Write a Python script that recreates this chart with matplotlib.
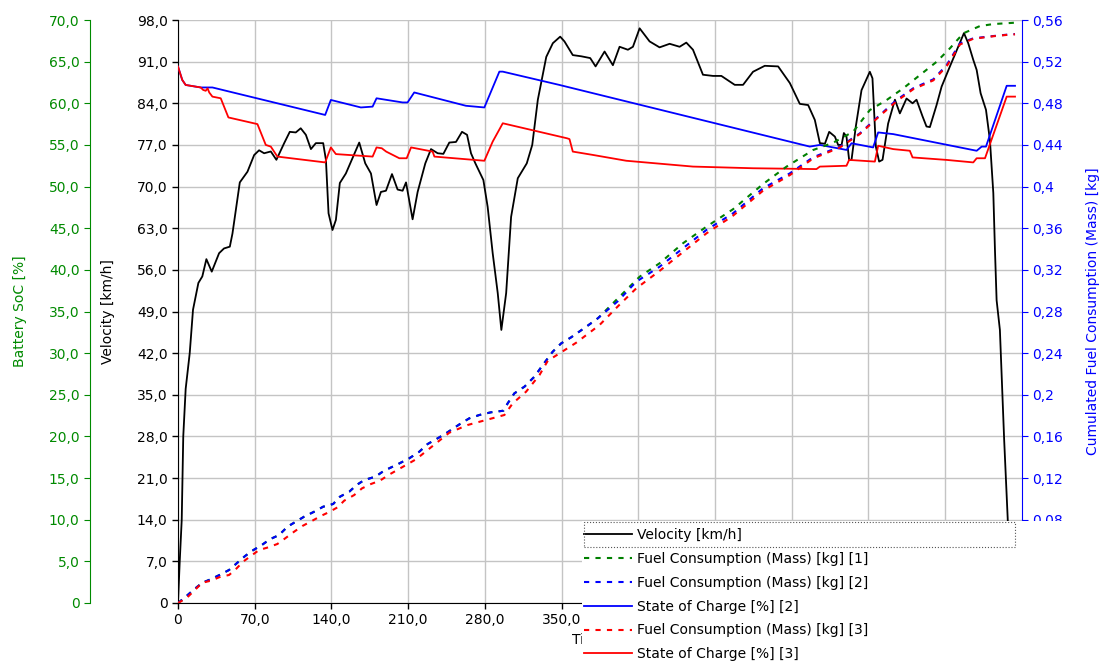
import numpy as np
import matplotlib
matplotlib.use("Agg")
import matplotlib.pyplot as plt
from matplotlib.lines import Line2D
from matplotlib.patches import Rectangle
from matplotlib.ticker import FuncFormatter

plt.rcParams['font.family'] = ['DejaVu Sans']
plt.rcParams['font.size'] = 10

# --- data (time [s], value) ---
velocity_pts = [
    (0, 0), (1.5, 6.7), (3.4, 14), (4.8, 28), (7, 36), (10.7, 42), (13.7, 49.3),
    (18.6, 53.8), (22.2, 54.9), (25.9, 57.8), (30.8, 55.7), (37.5, 58.8), (42, 59.6),
    (47.3, 59.9), (49.7, 62.1), (56.4, 70.7), (63.4, 72.5), (69.5, 75.3), (74, 76.1),
    (78.6, 75.6), (84.7, 75.9), (89.8, 74.5), (96.9, 77.3), (102, 79.2), (107.5, 79.1),
    (112, 79.8), (116.7, 78.7), (121.3, 76.3), (125.8, 77.3), (132.5, 77.3), (135, 74.5),
    (137.4, 65.5), (141, 62.7), (144.1, 64.4), (147.7, 70.6), (153.2, 72.2), (158.6, 74.5),
    (165.4, 77.4), (170.9, 73.9), (176.1, 72.2), (181.2, 66.9), (185.2, 69.1), (189.8, 69.3),
    (195.3, 72.1), (200.4, 69.5), (205, 69.3), (208.1, 70.7), (214.1, 64.5), (218.7, 69.1),
    (225.7, 73.9), (230.9, 76.3), (237, 75.6), (242.2, 75.5), (247.6, 77.4), (253.7, 77.5),
    (259.2, 79.2), (263.8, 78.7), (267.4, 75.6), (271.4, 73.9), (278.7, 71.1), (282.6, 66.6),
    (287.2, 58.8), (291.8, 52.1), (295.1, 45.9), (299.5, 52.1), (304, 64.9), (310.1, 71.4),
    (318.3, 73.9), (323.3, 77), (328.4, 84.6), (336.1, 91.8), (342.1, 94.1), (348.8, 95.2),
    (352.7, 94.4), (360.3, 92.1), (368, 91.9), (376.2, 91.6), (381.1, 90.2), (389.3, 92.7),
    (396.9, 90.4), (403, 93.5), (410.6, 93), (415.2, 93.5), (421.3, 96.6), (430.4, 94.4),
    (439.5, 93.4), (448.7, 94), (457.8, 93.5), (463.9, 94.2), (470, 93), (479.1, 88.8),
    (488.3, 88.6), (495.9, 88.6), (508.1, 87.1), (515.7, 87.1), (524.8, 89.3), (535.5, 90.3),
    (547.7, 90.2), (558.4, 87.4), (567.5, 83.9), (575.1, 83.7), (581.2, 81.2), (585.8, 77.3),
    (590.4, 77.2), (594.3, 79.2), (599.5, 78.4), (602.5, 77), (605.6, 77), (607.7, 79),
    (610.1, 78.4), (612.5, 74.5), (614.7, 74.5), (618.6, 80.1), (623.8, 86.2), (631.4, 89.3),
    (633.8, 88.2), (636.9, 76.7), (639.9, 74.2), (643, 74.5), (648.1, 80.6), (654.3, 84.6),
    (658.8, 82.3), (664.9, 84.8), (670.4, 84), (674, 84.6), (679.5, 81.8), (683.1, 80.1),
    (686.2, 80), (692.3, 83.7), (696.9, 86.8), (704.5, 90.2), (712.1, 93.5), (717.3, 95.8),
    (721.2, 94.1), (725.8, 91.3), (728.9, 89.6), (732.5, 85.7), (737.4, 82.9), (741, 77.8),
    (744.1, 68.9), (745.6, 59.3), (747.1, 50.9), (750.1, 45.9), (754, 27.4), (757.2, 14.3),
    (760, 0),
]

fuel1_pts = [
    (0, 0), (7, 0.006), (14.6, 0.013), (22.2, 0.0195), (29.9, 0.0228), (39, 0.0275),
    (46.6, 0.0317), (54.2, 0.0387), (61.2, 0.0451), (67.9, 0.0503), (76.5, 0.0557),
    (83.8, 0.0612), (92.3, 0.0653), (99.9, 0.0733), (107.5, 0.0781), (115.1, 0.0829),
    (124.3, 0.0877), (132.5, 0.0925), (141.6, 0.0951), (147.8, 0.1021), (156.3, 0.1069),
    (162.9, 0.1133), (170, 0.1181), (180, 0.1213), (188.2, 0.1271), (200, 0.133),
    (211.1, 0.139), (220.2, 0.1453), (227.8, 0.1527), (237, 0.1582), (244.6, 0.163),
    (258.3, 0.1726), (265.9, 0.1774), (275.1, 0.1806), (285.7, 0.1832), (297, 0.1847),
    (300.9, 0.1918), (307, 0.2014), (316.2, 0.2078), (325.3, 0.2174), (332.9, 0.2286),
    (342, 0.2414), (349.7, 0.2494), (358.8, 0.2552), (372.6, 0.2654), (383.2, 0.2735),
    (401.5, 0.2927), (421.3, 0.3134), (439.5, 0.3263), (460.8, 0.3455), (482.2, 0.3614),
    (506.5, 0.3782), (533.9, 0.4024), (555.3, 0.4191), (579.6, 0.4351), (597.9, 0.4421),
    (616.2, 0.4527), (631.4, 0.4735), (646.7, 0.4831), (661.9, 0.4944), (677.1, 0.5071),
    (692.4, 0.5199), (704.5, 0.5328), (716.7, 0.5472), (731.9, 0.5542), (744.1, 0.5561),
    (763.9, 0.5574),
]

fuel2_pts = [
    (0, 0), (7, 0.006), (14.6, 0.013), (22.2, 0.0195), (29.9, 0.0228), (39, 0.0275),
    (46.6, 0.0317), (54.2, 0.0387), (61.2, 0.0451), (67.9, 0.0503), (76.5, 0.0557),
    (83.8, 0.0612), (92.3, 0.0653), (99.9, 0.0733), (107.5, 0.0781), (115.1, 0.0829),
    (124.3, 0.0877), (132.5, 0.0925), (141.6, 0.0951), (147.8, 0.1021), (156.3, 0.1069),
    (162.9, 0.1133), (170, 0.1181), (180, 0.1213), (188.2, 0.1271), (200, 0.133),
    (211.1, 0.139), (220.2, 0.1453), (227.8, 0.1527), (237, 0.1582), (244.6, 0.163),
    (258.3, 0.1726), (265.9, 0.1774), (275.1, 0.1806), (285.7, 0.1832), (297, 0.1847),
    (300.9, 0.1918), (307, 0.2014), (316.2, 0.2078), (325.3, 0.2174), (332.9, 0.2286),
    (342, 0.2414), (349.7, 0.2494), (358.8, 0.2552), (372.6, 0.2654), (383.2, 0.2735),
    (401.5, 0.29), (418.2, 0.3086), (439.5, 0.323), (460.8, 0.3407), (482.2, 0.3583),
    (506.5, 0.3743), (533.9, 0.3983), (558.4, 0.4127), (579.6, 0.4281), (604, 0.4383),
    (622.3, 0.4511), (640.6, 0.4687), (655.8, 0.4831), (671, 0.4944), (689.3, 0.503),
    (701.5, 0.5167), (713.7, 0.5376), (725.8, 0.5424), (744.1, 0.5446), (759.4, 0.5462),
    (763.9, 0.5465),
]

fuel3_pts = [
    (0, 0), (7.6, 0.0045), (22.2, 0.0195), (29.9, 0.0214), (39, 0.0253), (46.6, 0.0269),
    (52.7, 0.0324), (59.4, 0.0397), (66.4, 0.0451), (74, 0.0509), (82.5, 0.0535),
    (90.7, 0.0567), (97.8, 0.0621), (106, 0.0685), (113.6, 0.074), (122.7, 0.0791),
    (130.4, 0.0836), (138, 0.0874), (145.6, 0.0919), (151.7, 0.0983), (160.8, 0.1037),
    (167.9, 0.1101), (176.1, 0.1143), (184.3, 0.1175), (192.2, 0.123), (217.2, 0.138),
    (232.4, 0.1508), (247.6, 0.1636), (264.4, 0.171), (281.2, 0.1758), (297.9, 0.1806),
    (305.5, 0.1918), (317.7, 0.203), (329.9, 0.219), (337.5, 0.2327), (348.2, 0.2398),
    (363.4, 0.25), (384.7, 0.267), (401.5, 0.285), (418.2, 0.3022), (439.5, 0.319),
    (460.8, 0.337), (482.2, 0.355), (506.5, 0.372), (533.9, 0.396), (558.4, 0.411),
    (579.6, 0.427), (604, 0.4375), (622.3, 0.4505), (640.6, 0.468), (655.8, 0.482),
    (671, 0.4935), (689.3, 0.502), (701.5, 0.5155), (713.7, 0.5365), (725.8, 0.542),
    (744.1, 0.5444), (759.4, 0.546), (763.9, 0.5462),
]

soc2_pts = [
    (0, 64.4), (3.9, 62.8), (7, 62.2), (20.7, 61.9), (31.4, 61.9), (134.3, 58.6),
    (139.5, 60.4), (166.9, 59.5), (177.6, 59.6), (181.2, 60.6), (205, 60.1), (209.5, 60.1),
    (215.6, 61.3), (262.8, 59.7), (279.6, 59.5), (293.3, 63.8), (296.4, 63.8), (348.2, 62.2),
    (576.6, 54.8), (585.8, 55.0), (610.1, 54.4), (614.7, 55.2), (634.4, 54.7), (639, 56.5),
    (652.7, 56.3), (728.9, 54.3), (733.5, 54.8), (737.4, 54.8), (756.3, 62.1), (763.9, 62.1),
]

soc3_pts = [
    (0, 64.4), (3.9, 62.8), (7, 62.2), (20.7, 61.9), (23, 61.6), (25.3, 61.5), (27, 61.8),
    (28.5, 61.3), (31.4, 60.8), (39, 60.6), (46, 58.3), (72.5, 57.5), (80.1, 55.0),
    (84.7, 54.8), (90.7, 53.6), (134.3, 52.9), (139.5, 54.7), (144.1, 53.9), (177.6, 53.6),
    (181.2, 54.7), (186, 54.6), (190, 54.2), (202, 53.4), (208.7, 53.4), (212.7, 54.7),
    (232.4, 54.2), (234, 53.6), (279.6, 53.1), (287.2, 55.4), (296.4, 57.6), (355, 55.8),
    (357.3, 55.7), (360.3, 54.2), (378.6, 53.8), (409.1, 53.1), (470, 52.4), (524.8, 52.2),
    (582.7, 52.1), (585.8, 52.4), (610.1, 52.5), (612.5, 53.2), (636, 53.0), (639, 54.9),
    (652.7, 54.5), (667.9, 54.3), (670.4, 53.5), (701.5, 53.2), (725.8, 52.9), (728.9, 53.4),
    (736.5, 53.4), (756.3, 60.8), (763.9, 60.8),
]

legend_labels = ["Velocity [km/h]", "Fuel Consumption (Mass) [kg] [1]",
                 "Fuel Consumption (Mass) [kg] [2]", "State of Charge [%] [2]",
                 "Fuel Consumption (Mass) [kg] [3]", "State of Charge [%] [3]"]

GREEN = '#008a00'
BLUE = '#0000ff'
RED = '#ff0000'
DOTS = (0, (2.5, 3))


def comma1(v, pos):
    if abs(v) < 1e-9:
        return '0'
    return f'{v:.1f}'.replace('.', ',')


def time_fmt(v, pos):
    # labels past 350 sit under the legend in the original
    if v > 351:
        return ''
    return comma1(v, pos)


def comma2(v, pos):
    # 0 and 0,04 sit under the legend in the original
    if v < 0.07:
        return ''
    return f'{v:.2f}'.rstrip('0').replace('.', ',')


W, H = 1101, 667
fig = plt.figure(figsize=(W / 100, H / 100), dpi=100)
left, right, top, bottom = 178, 1021.7, 20, 603
ax = fig.add_axes([left / W, 1 - bottom / H, (right - left) / W, (bottom - top) / H])

# velocity axis (main)
ax.set_xlim(0, 770)
ax.set_ylim(0, 98)
ax.set_xticks(np.arange(0, 701, 70))
ax.set_yticks(np.arange(0, 99, 7))
ax.xaxis.set_major_formatter(FuncFormatter(time_fmt))
ax.yaxis.set_major_formatter(FuncFormatter(comma1))
ax.grid(True, color='#c4c4c4', lw=1)
ax.set_axisbelow(True)
for s in ['top', 'right']:
    ax.spines[s].set_visible(False)
ax.tick_params(length=4, width=1, color='black')
ax.set_xlabel('Time [s]', labelpad=4)
ax.set_ylabel('Velocity [km/h]')
ax.yaxis.set_label_coords((115 - left) / (right - left), 0.5)

# battery SoC axis (green, far left)
soc_ax = ax.twinx()
soc_ax.set_ylim(0, 70)
soc_ax.set_yticks(np.arange(0, 71, 5))
soc_ax.yaxis.set_major_formatter(FuncFormatter(comma1))
soc_ax.yaxis.set_ticks_position('left')
soc_ax.yaxis.set_label_position('left')
soc_ax.spines['left'].set_position(('axes', (90 - left) / (right - left)))
soc_ax.spines['left'].set_visible(True)
soc_ax.spines['left'].set_color(GREEN)
for s in ['top', 'right', 'bottom']:
    soc_ax.spines[s].set_visible(False)
soc_ax.tick_params(axis='y', colors=GREEN, length=4)
soc_ax.set_ylabel('Battery SoC [%]', color=GREEN)
soc_ax.yaxis.set_label_coords((27 - left) / (right - left), 0.5)

# cumulated fuel axis (blue, right)
fc_ax = ax.twinx()
fc_ax.set_ylim(0, 0.56)
fc_ax.set_yticks(np.round(np.arange(0, 0.5601, 0.04), 2))
fc_ax.yaxis.set_major_formatter(FuncFormatter(comma2))
fc_ax.spines['right'].set_color(BLUE)
for s in ['top', 'left', 'bottom']:
    fc_ax.spines[s].set_visible(False)
fc_ax.tick_params(axis='y', colors=BLUE, length=4)
fc_ax.set_ylabel('Cumulated Fuel Consumption (Mass) [kg]', color=BLUE)
fc_ax.yaxis.set_label_coords((1086 - left) / (right - left), 0.5)

# lines
t, v = zip(*velocity_pts)
ax.plot(t, v, color='black', lw=1.3)

t, f = zip(*fuel1_pts)
fc_ax.plot(t, f, color='#008000', lw=1.5, ls=DOTS)
t, f = zip(*fuel2_pts)
fc_ax.plot(t, f, color=BLUE, lw=1.5, ls=DOTS)
t, f = zip(*fuel3_pts)
fc_ax.plot(t, f, color=RED, lw=1.5, ls=DOTS)

t, s = zip(*soc2_pts)
soc_ax.plot(t, s, color=BLUE, lw=1.3)
t, s = zip(*soc3_pts)
soc_ax.plot(t, s, color=RED, lw=1.3)

# legend sits over the lower right corner, white background
fig.add_artist(Rectangle((582 / W, 0), (1066 - 582) / W, (H - 521) / H,
                         transform=fig.transFigure, facecolor='white',
                         edgecolor='none', zorder=4))
handles = [Line2D([], [], color='black', lw=1.3),
           Line2D([], [], color='#008000', lw=1.5, ls=DOTS),
           Line2D([], [], color=BLUE, lw=1.5, ls=DOTS),
           Line2D([], [], color=BLUE, lw=1.3),
           Line2D([], [], color=RED, lw=1.5, ls=DOTS),
           Line2D([], [], color=RED, lw=1.3)]
fig.legend(handles, legend_labels, loc='upper left',
           bbox_to_anchor=(584 / W, 1 - 528 / H), frameon=False,
           borderpad=0, borderaxespad=0, handlelength=3.45,
           handletextpad=0.36, labelspacing=0.71, fontsize=10)
fig.add_artist(Rectangle((584 / W, 1 - 547 / H), (1015 - 584) / W, 25 / H,
                         transform=fig.transFigure, facecolor='none',
                         edgecolor='#555555', lw=0.8, ls=':', zorder=6))

fig.savefig('out.png', dpi=100)
